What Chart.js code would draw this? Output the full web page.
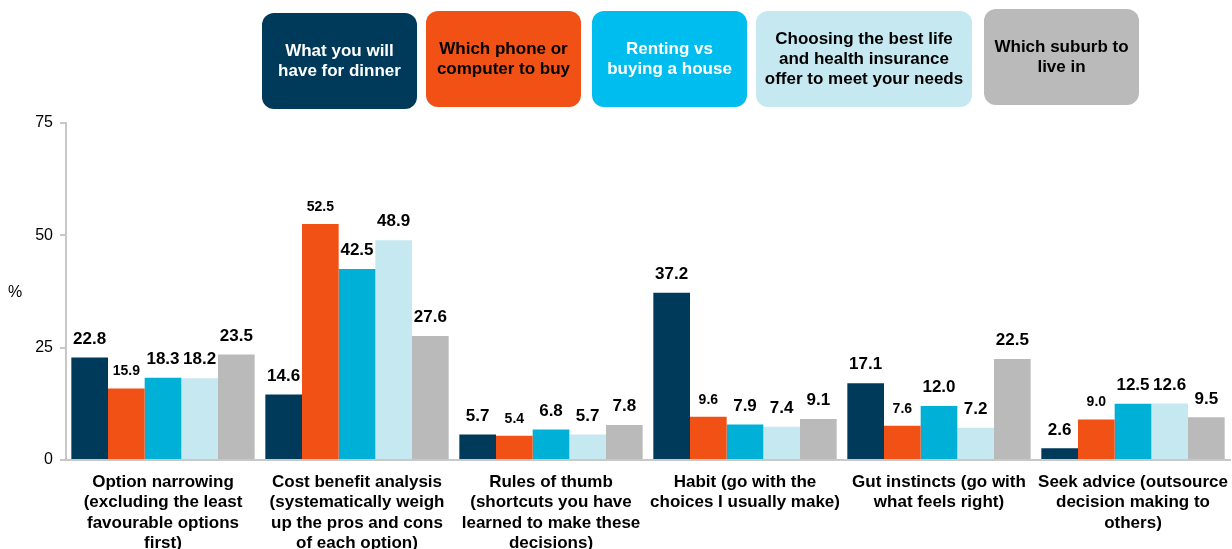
<!DOCTYPE html>
<html>
<head>
<meta charset="utf-8">
<script src="https://cdn.jsdelivr.net/npm/chart.js@4.4.0/dist/chart.umd.min.js"></script>
<style>
    html, body { margin: 0; padding: 0; background: #fff; }
    #wrap { position: relative; width: 1232px; height: 549px; }
    #legend { position: absolute; left: 0; top: 0; width: 1232px; height: 115px; }
    .key {
        position: absolute;
        display: flex;
        align-items: center;
        justify-content: center;
        text-align: center;
        border-radius: 12px;
        font: bold 17px "Liberation Sans", Arial, sans-serif;
        line-height: 20px;
    }
</style>
</head>
<body>
<div id="wrap">
    <canvas id="chart" width="1232" height="549"></canvas>
    <div id="legend"></div>
</div>
<script>
// =============================================================
// DATA
// =============================================================
const categories = [
    ["Option narrowing", "(excluding the least", "favourable options", "first)"],
    ["Cost benefit analysis", "(systematically weigh", "up the pros and cons", "of each option)"],
    ["Rules of thumb", "(shortcuts you have", "learned to make these", "decisions)"],
    ["Habit (go with the", "choices I usually make)"],
    ["Gut instincts (go with", "what feels right)"],
    ["Seek advice (outsource", "decision making to", "others)"]
];

const seriesNames = [
    ["What you will", "have for dinner"],
    ["Which phone or", "computer to buy"],
    ["Renting vs", "buying a house"],
    ["Choosing the best life", "and health insurance", "offer to meet your needs"],
    ["Which suburb to", "live in"]
];

const dinner    = [22.8, 14.6, 5.7, 37.2, 17.1, 2.6];
const phone     = [15.9, 52.5, 5.4, 9.6, 7.6, 9.0];
const renting   = [18.3, 42.5, 6.8, 7.9, 12.0, 12.5];
const insurance = [18.2, 48.9, 5.7, 7.4, 7.2, 12.6];
const suburb    = [23.5, 27.6, 7.8, 9.1, 22.5, 9.5];

const yTicks = [0, 25, 50, 75];

// =============================================================
// STYLES
// =============================================================
const FONT = '"Liberation Sans", Arial, sans-serif';
const barColors    = ["#003a5b", "#f15114", "#00b0d7", "#c6e8f1", "#bababa"];
const keyColors    = ["#003a5b", "#f15114", "#00bdef", "#c6e8f1", "#bababa"];
const keyText      = ["#ffffff", "#000000", "#ffffff", "#000000", "#000000"];
const labelSizes   = [17, 14, 17, 17, 17];
const keyBoxes = [
    { x: 262, y: 13, w: 155, h: 96 },
    { x: 426, y: 11, w: 155, h: 96 },
    { x: 592, y: 11, w: 155, h: 96 },
    { x: 756, y: 11, w: 216, h: 96 },
    { x: 984, y: 9,  w: 155, h: 96 }
];

// =============================================================
// LEGEND BOXES
// =============================================================
const legendEl = document.getElementById("legend");
seriesNames.forEach((name, i) => {
    const b = keyBoxes[i];
    const div = document.createElement("div");
    div.className = "key";
    div.style.left = b.x + "px";
    div.style.top = b.y + "px";
    div.style.width = b.w + "px";
    div.style.height = b.h + "px";
    div.style.background = keyColors[i];
    div.style.color = keyText[i];
    div.innerHTML = name.join("<br>");
    legendEl.appendChild(div);
});

// =============================================================
// PLUGINS
// =============================================================
const valueLabels = {
    id: "valueLabels",
    afterDatasetsDraw(chart) {
        const ctx = chart.ctx;
        ctx.save();
        ctx.textAlign = "center";
        ctx.textBaseline = "bottom";
        ctx.fillStyle = "#000";
        chart.data.datasets.forEach((ds, i) => {
            ctx.font = "bold " + labelSizes[i] + "px " + FONT;
            chart.getDatasetMeta(i).data.forEach((bar, j) => {
                ctx.fillText(ds.data[j].toFixed(1), bar.x, bar.y - 10);
            });
        });
        ctx.restore();
    }
};

const percentSign = {
    id: "percentSign",
    afterDraw(chart) {
        const ctx = chart.ctx;
        ctx.save();
        ctx.font = "16px " + FONT;
        ctx.fillStyle = "#000";
        ctx.textAlign = "center";
        ctx.textBaseline = "middle";
        ctx.fillText("%", 15, 293);
        ctx.restore();
    }
};

// =============================================================
// CHART
// =============================================================
const series = [dinner, phone, renting, insurance, suburb];

new Chart(document.getElementById("chart"), {
    type: "bar",
    data: {
        labels: categories,
        datasets: series.map((vals, i) => ({
            label: seriesNames[i].join(" "),
            data: vals,
            backgroundColor: barColors[i],
            barPercentage: 1,
            categoryPercentage: 0.945
        }))
    },
    options: {
        responsive: false,
        animation: false,
        layout: { padding: { top: 123, right: 2, left: 0, bottom: 0 } },
        plugins: {
            legend: { display: false },
            tooltip: { enabled: false }
        },
        scales: {
            x: {
                grid: { display: false, drawTicks: false },
                border: { display: true, color: "#c8c8c8", width: 2 },
                ticks: {
                    color: "#000",
                    font: { family: FONT, size: 17, weight: "bold", lineHeight: 1.2 },
                    padding: 12,
                    maxRotation: 0,
                    autoSkip: false
                },
                afterFit(scale) {
                    scale.height = 89;
                    // wide labels shouldn't squeeze the plot area
                    scale.paddingLeft = 0;
                    scale.paddingRight = 0;
                }
            },
            y: {
                min: 0,
                max: 75,
                afterBuildTicks(scale) { scale.ticks = yTicks.map(v => ({ value: v })); },
                grid: {
                    drawOnChartArea: false,
                    drawTicks: true,
                    tickLength: 6,
                    color: "#c8c8c8",
                    lineWidth: 2
                },
                border: { display: true, color: "#c8c8c8", width: 2 },
                ticks: {
                    color: "#000",
                    font: { family: FONT, size: 16 },
                    padding: 7
                },
                afterFit(scale) { scale.width = 66; }
            }
        }
    },
    plugins: [valueLabels, percentSign]
});
</script>
</body>
</html>
